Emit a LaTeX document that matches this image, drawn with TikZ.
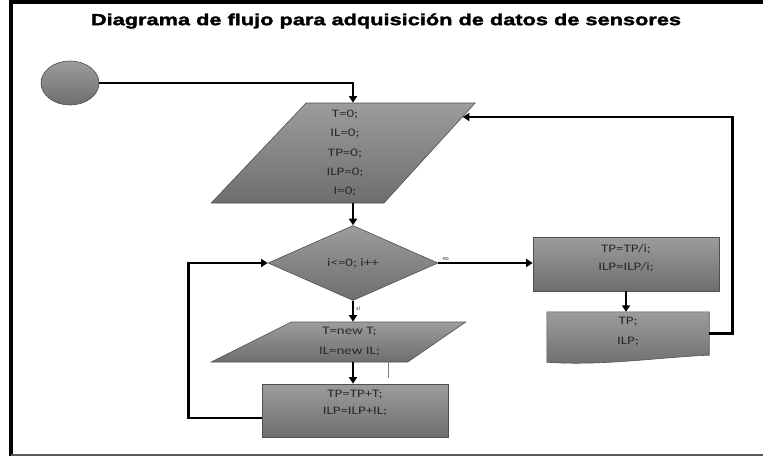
\documentclass[tikz,border=0pt]{standalone}
\usepackage{fontspec}
\setmainfont{Carlito}
\newfontfamily\titlefont[FakeStretch=1.36,FakeBold=2]{Liberation Sans Bold}
\newfontfamily\boxfont[FakeStretch=1.3]{Carlito}
\usetikzlibrary{shapes.geometric,positioning,calc,arrows.meta}
\definecolor{boxtop}{HTML}{9C9C9C}
\definecolor{boxbot}{HTML}{6E6E6E}
\definecolor{boxline}{HTML}{505050}
\definecolor{boxink}{HTML}{2A2A2A}

\tikzset{
  boxshade/.style={draw=boxline, line width=0.6pt, top color=boxtop, bottom color=boxbot},
  boxtext/.style={font=\boxfont\fontsize{11.5}{#1}\selectfont, text=boxink, align=center, inner sep=0pt},
  boxtext/.default=19,
  procbox/.style={boxshade, rectangle, inner sep=0pt},
  iobox/.style={boxshade, trapezium, trapezium stretches=true, inner sep=0pt},
  decbox/.style={boxshade, diamond, inner sep=0pt, boxtext},
  startnode/.style={boxshade, ellipse, minimum width=58pt, minimum height=44pt},
  flowline/.style={black, line width=2.9pt},
  flowarrow/.style={flowline, -{Triangle[length=6.5pt,width=8pt]}},
  branchtext/.style={font=\fontsize{6}{6}\selectfont, text=boxink, inner sep=1pt}
}

\begin{document}
\begin{tikzpicture}[x=1pt,y=-1pt]
  \useasboundingbox (0,0) rectangle (763,456);
  % frame
  \draw[line width=3.2pt] (763,2) -- (11,2) -- (11,456);
  \draw[gray!70!black, line width=1.8pt] (11,455) -- (763,455);
  \node[font=\titlefont\fontsize{16}{16}\selectfont] (title) at (386,21)
    {Diagrama de flujo para adquisición de datos de sensores};

  % shapes
  \node[startnode] (start) at (70,83) {};
  \node[iobox, trapezium left angle=62.5, trapezium right angle=116.6,
        minimum width=264pt, minimum height=100pt, boxtext=19.3] (init) at (345,153)
    {T=0;\\IL=0;\\TP=0;\\ILP=0;\\I=0;};
  \node[decbox, minimum width=170pt, minimum height=75pt] (loop) at (353,263) {i<=0; i++};
  \node[iobox, trapezium left angle=34.6, trapezium right angle=136.4,
        minimum width=255pt, minimum height=40pt, boxtext=20] (read) at (349.5,342)
    {T=new T;\\IL=new IL;};
  \node[procbox, minimum width=186pt, minimum height=53pt] (accum) at (355,410.5) {};
  \node[boxtext=17] (accumtext) at (355,403.5) {TP=TP+T;\\ILP=ILP+IL;};
  \node[procbox, minimum width=186pt, minimum height=54pt] (mean) at (626,264) {};
  \node[boxtext=18] (meantext) at (626,258) {TP=TP/i;\\ILP=ILP/i;};
  \node[minimum width=162pt, minimum height=43pt, inner sep=0pt] (show) at (628,333.5) {};
  \shade[boxshade] (show.north west) -- (show.north east) -- (show.south east)
    .. controls ($(show.south east)+(-50,2)$) and ($(show.south west)+(55,11)$)
    .. ($(show.south west)+(0,7)$) -- cycle;
  \node[boxtext=20] (showtext) at (628,332) {TP;\\ILP;};
  \draw[gray, line width=0.5pt] (388,362) -- (388,378);

  % connectors
  \draw[flowarrow] (start.east) -| ([xshift=8pt]init.north);
  \draw[flowarrow] (loop.north |- init.south) -- (loop.north);
  \draw[flowarrow] (loop.east) -- (mean.west |- loop.east);
  \node[branchtext, anchor=south west] (no) at ([xshift=3pt,yshift=1pt]loop.east) {no};
  \draw[flowarrow] (loop.south) -- (loop.south |- read.north);
  \node[branchtext, anchor=west] (yes) at ([xshift=2pt,yshift=-8pt]loop.south) {si};
  \draw[flowarrow] (loop.south |- read.south) -- (loop.south |- accum.north);
  \draw[flowarrow] ([yshift=-7.5pt]accum.west) -- ++(-73,0) |- (loop.west);
  \draw[flowarrow] (mean.south) -- (mean.south |- show.north);
  \draw[flowarrow] (show.east) -- ++(23,0) |- (init.17);
\end{tikzpicture}
\end{document}
